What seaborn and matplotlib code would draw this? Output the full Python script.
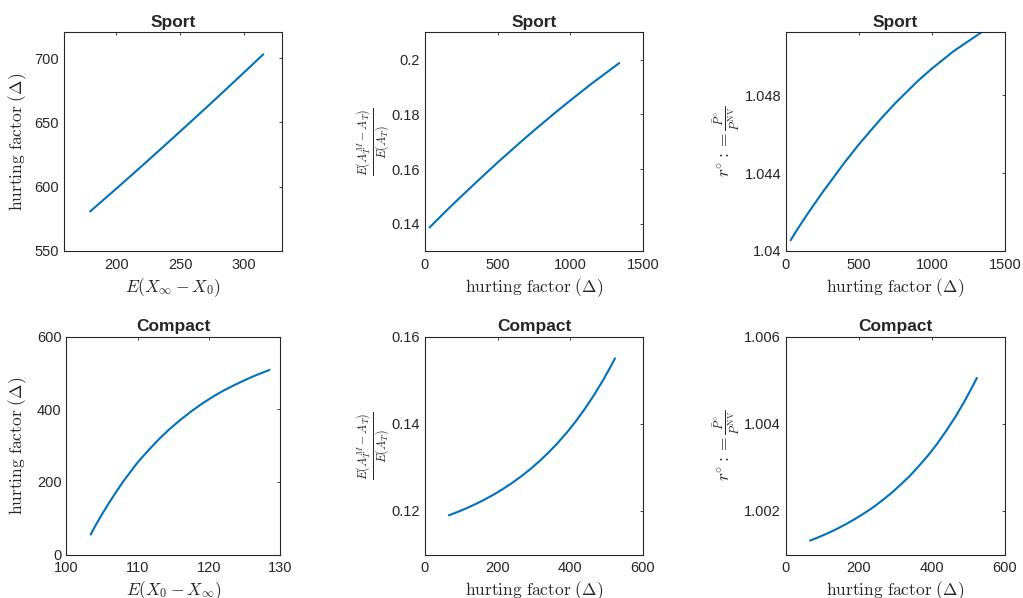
import matplotlib
matplotlib.use("Agg")
import matplotlib.pyplot as plt
import seaborn as sns
import pandas as pd

# Style: MATLAB-like boxed axes
sns.set_theme(style="white")
plt.rcParams["font.family"] = ["Liberation Sans", "DejaVu Sans"]
plt.rcParams["mathtext.fontset"] = "cm"
plt.rcParams["axes.edgecolor"] = "#262626"
plt.rcParams["axes.linewidth"] = 0.8
plt.rcParams["xtick.direction"] = "in"
plt.rcParams["ytick.direction"] = "in"
plt.rcParams["xtick.top"] = True
plt.rcParams["ytick.right"] = True
plt.rcParams["xtick.major.size"] = 2.5
plt.rcParams["ytick.major.size"] = 2.5
plt.rcParams["xtick.major.width"] = 0.6
plt.rcParams["ytick.major.width"] = 0.6
plt.rcParams["xtick.major.pad"] = 5
plt.rcParams["xtick.color"] = "#262626"
plt.rcParams["ytick.color"] = "#262626"
plt.rcParams["xtick.labelsize"] = 10.5
plt.rcParams["ytick.labelsize"] = 10.5

LINE = "#0072BD"

# Sport: E(X_inf - X_0) vs hurting factor
sport_ex = [179.5, 200, 225, 250, 275, 300, 315.3]
sport_hf = [580.8, 598.5, 620.5, 642.9, 665.6, 688.7, 703.0]

# Sport: hurting factor vs relative A_T gap
sport_hf2 = [31.5, 90, 150, 250, 400, 500, 650, 750, 900, 1000, 1150, 1337]
sport_gap = [0.1386, 0.1417, 0.1449, 0.1500, 0.1575, 0.1624, 0.1695, 0.1741,
             0.1808, 0.1851, 0.1914, 0.1988]

# Sport: hurting factor vs r
sport_r = [1.04055, 1.04125, 1.04193, 1.04301, 1.04453, 1.04548, 1.04679,
           1.04760, 1.04871, 1.04937, 1.05027, 1.05122]

# Compact: E(X_0 - X_inf) vs hurting factor
comp_ex = [103.4, 104, 105, 106, 107, 108, 109, 110, 111.5, 113, 114.5, 116,
           117.5, 119, 120.5, 122, 123.5, 125, 126.5, 128.46]
comp_hf = [55, 77, 111, 143, 173, 202, 228, 254, 287, 318, 346, 371,
           394, 415, 434, 451, 466, 480, 493, 508]

# Compact: hurting factor vs relative gap and r
comp_hf2 = [66, 90, 115, 140, 165, 190, 215, 240, 265, 290, 315, 340, 365,
            390, 415, 440, 465, 490, 510, 523]
comp_gap = [0.11900, 0.11977, 0.12064, 0.12160, 0.12265, 0.12379, 0.12505,
            0.12643, 0.12794, 0.12959, 0.13141, 0.13339, 0.13556, 0.13794,
            0.14055, 0.14341, 0.14654, 0.14997, 0.15295, 0.15500]
comp_r = [1.00132, 1.00140, 1.00149, 1.00159, 1.00170, 1.00182, 1.00195,
          1.00209, 1.00225, 1.00242, 1.00261, 1.00281, 1.00304, 1.00328,
          1.00355, 1.00385, 1.00417, 1.00453, 1.00484, 1.00505]

hf_label = r"$\mathrm{hurting\ factor}\ (\Delta)$"
gap_label = r"$\frac{E(A_T^M - A_T)}{E(A_T)}$"
r_label = r"$r^{\circ} := \frac{\bar{P}^{\circ}}{P^{\rm NV}}$"

panels = [
    # position, x, y, title, xlabel, ylabel, ylabel x, xlim, ylim, xticks, yticks, yticklabels
    ([0.0626, 0.5803, 0.2131, 0.3654], sport_ex, sport_hf, "Sport",
     r"$E(X_\infty - X_0)$", hf_label, -0.160, (159, 330), (550, 720),
     [200, 250, 300], [550, 600, 650, 700], ["550", "600", "650", "700"]),
    ([0.4154, 0.5803, 0.2131, 0.3654], sport_hf2, sport_gap, "Sport",
     hf_label, gap_label, -0.151, (0, 1500), (0.13, 0.21),
     [0, 500, 1000, 1500], [0.14, 0.16, 0.18, 0.2],
     ["0.14", "0.16", "0.18", "0.2"]),
    ([0.7683, 0.5803, 0.2141, 0.3654], sport_hf2, sport_r, "Sport",
     hf_label, r_label, -0.201, (0, 1500), (1.04, 1.05122),
     [0, 500, 1000, 1500], [1.04, 1.044, 1.048], ["1.04", "1.044", "1.048"]),
    ([0.0649, 0.0727, 0.2092, 0.3645], comp_ex, comp_hf, "Compact",
     r"$E(X_0 - X_\infty)$", hf_label, -0.175, (100, 130), (0, 600),
     [100, 110, 120, 130], [0, 200, 400, 600], ["0", "200", "400", "600"]),
    ([0.4154, 0.0727, 0.2131, 0.3645], comp_hf2, comp_gap, "Compact",
     hf_label, gap_label, -0.151, (0, 600), (0.11, 0.16),
     [0, 200, 400, 600], [0.12, 0.14, 0.16], ["0.12", "0.14", "0.16"]),
    ([0.7683, 0.0727, 0.2141, 0.3645], comp_hf2, comp_r, "Compact",
     hf_label, r_label, -0.201, (0, 600), (1.001, 1.006),
     [0, 200, 400, 600], [1.002, 1.004, 1.006], ["1.002", "1.004", "1.006"]),
]

fig = plt.figure(figsize=(10.23, 5.98), dpi=100)

for pos, xs, ys, title, xl, yl, ylx, xlim, ylim, xt, yt, ytl in panels:
    ax = fig.add_axes(pos)
    df = pd.DataFrame({"x": xs, "y": ys})
    sns.lineplot(data=df, x="x", y="y", ax=ax, color=LINE, linewidth=1.5,
                 sort=True, estimator=None)
    ax.set_xlim(*xlim)
    ax.set_ylim(*ylim)
    ax.set_xticks(xt)
    ax.set_xticklabels([str(v) for v in xt])
    ax.set_yticks(yt)
    ax.set_yticklabels(ytl)
    ax.set_title(title, fontsize=12.5, fontweight="bold", pad=4)
    ax.set_xlabel(xl, fontsize=12.5, labelpad=3)
    ax.set_ylabel(yl, fontsize=12.5)
    ax.yaxis.set_label_coords(ylx, 0.5)
    for s in ax.spines.values():
        s.set_visible(True)

fig.savefig("out.png", dpi=100)
